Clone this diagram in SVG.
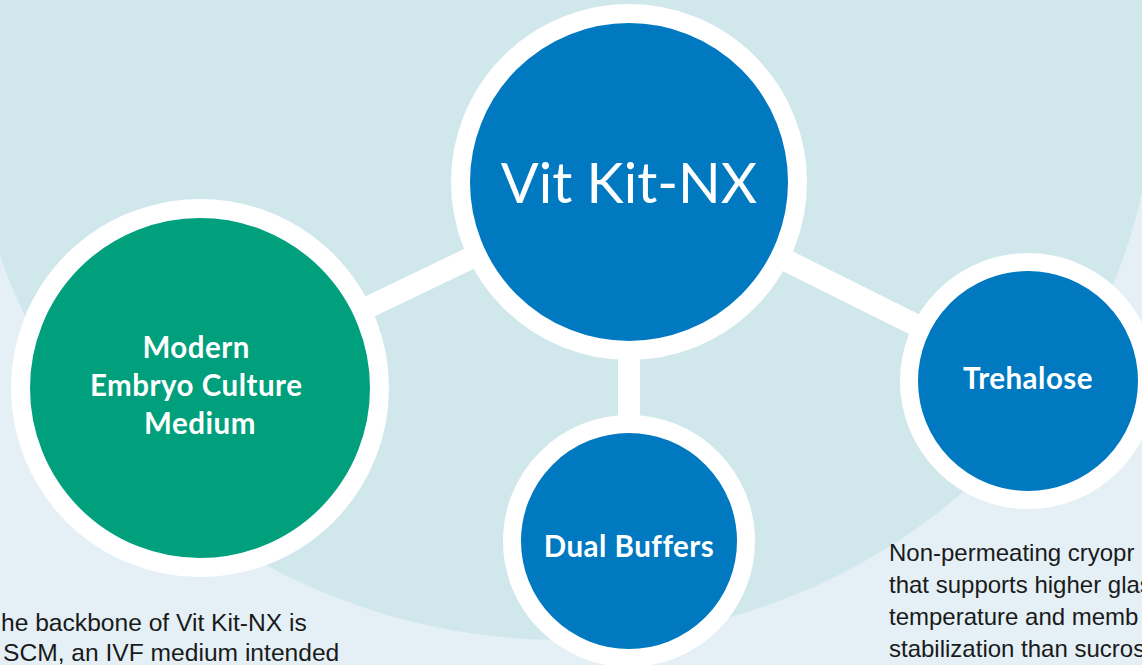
<svg xmlns="http://www.w3.org/2000/svg" width="1142" height="665" viewBox="0 0 1142 665">
  <style>
    .ring { stroke: #ffffff; }
    .blue { fill: #0079c1; }
    .green { fill: #00a07c; }
    .lbl { font-family: Lato, "Open Sans", sans-serif; font-weight: 700; font-size: 29.5px; letter-spacing: 0.5px; fill: #ffffff; text-anchor: middle; }
    .body { font-family: "Liberation Sans", Arial, sans-serif; font-size: 24.6px; fill: #1a1a1a; }
    .bodyr { font-family: "Liberation Sans", Arial, sans-serif; font-size: 24px; fill: #1a1a1a; }
    .conn { stroke: #ffffff; stroke-width: 22; }
  </style>
  <rect x="0" y="0" width="1142" height="665" fill="#e4f0f6"/>
  <ellipse cx="562" cy="80" rx="592" ry="560" fill="#d0e8ec"/>

  <g id="connectors">
    <line class="conn" x1="629" y1="182" x2="200" y2="388"/>
    <line class="conn" x1="629" y1="182" x2="629" y2="541"/>
    <line class="conn" x1="629" y1="182" x2="1028" y2="381"/>
  </g>

  <g id="node-vitkit">
    <circle class="ring blue" cx="629" cy="182" r="168.5" stroke-width="19"/>
    <text x="629" y="203" font-family="Lato, 'Open Sans', sans-serif" font-size="56" fill="#ffffff" text-anchor="middle">Vit Kit-NX</text>
  </g>

  <g id="node-medium">
    <circle class="ring green" cx="200" cy="388" r="179.5" stroke-width="19"/>
    <text class="lbl">
      <tspan x="200" y="358">Modern</tspan>
      <tspan x="200" y="396">Embryo Culture</tspan>
      <tspan x="200" y="434">Medium</tspan>
    </text>
  </g>

  <g id="node-buffers">
    <circle class="ring blue" cx="629" cy="541" r="117" stroke-width="18"/>
    <text class="lbl" x="629" y="557">Dual Buffers</text>
  </g>

  <g id="node-trehalose">
    <circle class="ring blue" cx="1028" cy="381" r="119" stroke-width="18"/>
    <text class="lbl" x="1028" y="389">Trehalose</text>
  </g>

  <g id="text-left">
    <text class="body"><tspan x="1" y="631">he backbone of Vit Kit-NX is</tspan><tspan x="3" y="661">SCM, an IVF medium intended</tspan></text>
  </g>
  <g id="text-right">
    <text class="bodyr"><tspan x="889" y="561">Non-permeating cryopr</tspan><tspan x="889" y="593">that supports higher glas</tspan><tspan x="889" y="625">temperature and memb</tspan><tspan x="889" y="657">stabilization than sucros</tspan></text>
  </g>
</svg>
